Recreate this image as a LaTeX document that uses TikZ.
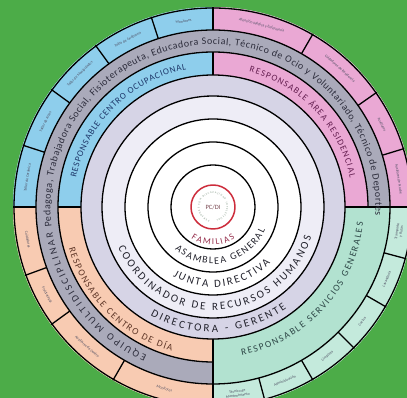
\documentclass[tikz,border=0pt]{standalone}
\usepackage{fontspec}
\setmainfont{Carlito}
\usetikzlibrary{decorations.text}
\definecolor{bg}{RGB}{76,172,72}
\definecolor{qblue}{RGB}{142,206,236}
\definecolor{qpink}{RGB}{234,168,212}
\definecolor{qsalmon}{RGB}{248,203,178}
\definecolor{qmint}{RGB}{178,226,208}
\definecolor{qmintl}{RGB}{196,234,220}
\definecolor{qgray}{RGB}{170,170,186}
\definecolor{lav}{RGB}{214,212,230}
\definecolor{lavl}{RGB}{238,237,246}
\definecolor{redc}{RGB}{205,45,60}
\definecolor{tdark}{RGB}{35,35,45}
\definecolor{tblue}{RGB}{30,55,105}
\definecolor{tpink}{RGB}{100,30,80}
\definecolor{tsalm}{RGB}{95,55,40}
\definecolor{tmint}{RGB}{45,70,70}
\definecolor{tgray}{RGB}{45,45,60}
\definecolor{tfam}{RGB}{150,45,75}
\definecolor{tpcdi}{RGB}{120,70,80}
\definecolor{tring}{RGB}{120,145,125}
\definecolor{boxtxt}{RGB}{80,80,100}
\tikzset{
  ringline/.style={draw=black, line width=1.3pt},
  arctext/.style={decorate, decoration={text along path, text align={fit to path}, text={#1}}},
  boxlbl/.style={font=\fontsize{3.8}{4.2}\selectfont, text=boxtxt, inner sep=0pt, align=center}
}
\begin{document}
\begin{tikzpicture}[x=1pt,y=1pt,line join=round]
\useasboundingbox (-213,-191) rectangle (194,207);
\fill[bg] (-213,-191) rectangle (194,207);
\begin{scope}
\clip (-213,-191) rectangle (194,207);
% base disk
\fill[white] (0,0) circle[radius=200pt];
\fill[lavl, even odd rule] (0,0) circle[radius=111pt] (0,0) circle[radius=88pt];
\fill[lav, even odd rule] (0,0) circle[radius=132pt] (0,0) circle[radius=111pt];
% gray ring (0 -> 270)
\fill[qgray] (0:155pt) arc[start angle=0,end angle=270,radius=155pt] -- (270:177pt) arc[start angle=270,end angle=0,radius=177pt] -- cycle;
% blue quadrant
\fill[qblue] (90:132pt) arc[start angle=90,end angle=180,radius=132pt] -- (180:155pt) arc[start angle=180,end angle=90,radius=155pt] -- cycle;
\fill[qblue] (90:177pt) arc[start angle=90,end angle=180,radius=177pt] -- (180:200pt) arc[start angle=180,end angle=90,radius=200pt] -- cycle;
% pink quadrant
\fill[qpink] (0:132pt) arc[start angle=0,end angle=90,radius=132pt] -- (90:155pt) arc[start angle=90,end angle=0,radius=155pt] -- cycle;
\fill[qpink] (0:177pt) arc[start angle=0,end angle=90,radius=177pt] -- (90:200pt) arc[start angle=90,end angle=0,radius=200pt] -- cycle;
% salmon quadrant
\fill[qsalmon] (180:132pt) arc[start angle=180,end angle=270,radius=132pt] -- (270:155pt) arc[start angle=270,end angle=180,radius=155pt] -- cycle;
\fill[qsalmon] (180:177pt) arc[start angle=180,end angle=270,radius=177pt] -- (270:200pt) arc[start angle=270,end angle=180,radius=200pt] -- cycle;
% mint quadrant
\fill[qmint] (270:132pt) arc[start angle=270,end angle=360,radius=132pt] -- (0:177pt) arc[start angle=360,end angle=270,radius=177pt] -- cycle;
\fill[qmintl] (270:177pt) arc[start angle=270,end angle=360,radius=177pt] -- (0:200pt) arc[start angle=360,end angle=270,radius=200pt] -- cycle;
% circles
\foreach \r in {42,65,88,111,132,177} {\draw[ringline] (0,0) circle[radius=\r pt];}
\draw[ringline] (0,0) circle[radius=199pt];
\draw[ringline] (0:155pt) arc[start angle=0,end angle=270,radius=155pt];
% quadrant dividers
\draw[ringline] (90:132pt) -- (90:155pt) (90:177pt) -- (90:200pt);
\draw[ringline] (180:132pt) -- (180:155pt) (180:177pt) -- (180:200pt);
\draw[ringline] (0:132pt) -- (0:200pt);
\draw[ringline] (270:132pt) -- (270:200pt);
% box dividers
\foreach \a in {108,126,144,162, 60,35,17, 200,216,240, 285,300,315,330,345} {\draw[ringline] (\a:177pt) -- (\a:200pt);}
% red circle
\draw[redc, line width=1.5pt] (0,0) circle[radius=22pt];
\node[font=\fontsize{6.5}{7}\selectfont, text=tpcdi, inner sep=0pt] (pcdi) at (0,0) {PC/DI};
\path[arctext={|\color{tring}\fontsize{2.6}{3}\selectfont|PERSONAS CON DISCAPACIDAD INTELECTUAL}] (255:13.5pt) arc[start angle=255,end angle=-75,radius=13.5pt];
% inner bottom labels
\path[arctext={|\color{tfam}\fontsize{9}{10}\selectfont|FAMILIAS}] (235:38pt) arc[start angle=235,end angle=305,radius=38pt];
\path[arctext={|\color{tdark}\fontsize{10}{11}\selectfont|ASAMBLEA GENERAL}] (228:57pt) arc[start angle=228,end angle=336,radius=57pt];
\path[arctext={|\color{tdark}\fontsize{11}{12}\selectfont|JUNTA DIRECTIVA}] (240:80pt) arc[start angle=240,end angle=316,radius=80pt];
\path[arctext={|\color{tdark}\fontsize{11}{12}\selectfont|COORDINADOR DE RECURSOS HUMANOS}] (203:103pt) arc[start angle=203,end angle=343,radius=103pt];
\path[arctext={|\color{tdark}\fontsize{11}{12}\selectfont|DIRECTORA - GERENTE}] (240:125pt) arc[start angle=240,end angle=306,radius=125pt];
% colored ring labels
\path[arctext={|\color{tblue}\fontsize{9}{10}\selectfont|RESPONSABLE CENTRO OCUPACIONAL}] (168:140pt) arc[start angle=168,end angle=101,radius=140pt];
\path[arctext={|\color{tpink}\fontsize{9}{10}\selectfont|RESPONSABLE ÁREA RESIDENCIAL}] (75:140pt) arc[start angle=75,end angle=12,radius=140pt];
\path[arctext={|\color{tsalm}\fontsize{9.5}{10}\selectfont|RESPONSABLE CENTRO DE DÍA}] (196:150pt) arc[start angle=196,end angle=254,radius=150pt];
\path[arctext={|\color{tmint}\fontsize{9.5}{10}\selectfont|RESPONSABLE SERVICIOS GENERALES}] (281:151pt) arc[start angle=281,end angle=354,radius=151pt];
% gray ring labels
\path[arctext={|\color{tgray}\fontsize{10}{11}\selectfont|Pedagoga, Trabajadora Social, Fisioterapeuta, Educadora Social, Técnico de Ocio y Voluntariado, Técnico de Deportes}] (187:162.5pt) arc[start angle=187,end angle=-3,radius=162.5pt];
\path[arctext={|\color{tgray}\fontsize{10}{11}\selectfont|EQUIPO MULTIDISCIPLINAR}] (246:162.5pt) arc[start angle=246,end angle=189,radius=162.5pt];
% outer box labels
\node[boxlbl, rotate=9] (b1) at (99:188pt) {Monitores};
\node[boxlbl, rotate=27] (b2) at (117:188pt) {Taller de Jardinería};
\node[boxlbl, rotate=45] (b3) at (135:188pt) {Taller de Manipulados};
\node[boxlbl, rotate=63] (b4) at (153:188pt) {Taller de Artes};
\node[boxlbl, rotate=81] (b5) at (171:188pt) {Taller de Cerámica};
\node[boxlbl, rotate=-15] (p1) at (75:188pt) {Atención Médica y Enfermería};
\node[boxlbl, rotate=-42.5] (p2) at (47.5:188pt) {Cuidadores de Residencia};
\node[boxlbl, rotate=-64] (p3) at (26:188pt) {Auxiliares};
\node[boxlbl, rotate=-81.5] (p4) at (8.5:188pt) {Auxiliares de Noche};
\node[boxlbl, rotate=280] (s1) at (190:188pt) {Cuidadores};
\node[boxlbl, rotate=298] (s2) at (208:188pt) {Fisioterapia};
\node[boxlbl, rotate=318] (s3) at (228:188pt) {Auxiliares de Centro};
\node[boxlbl, rotate=345] (s4) at (255:188pt) {Monitores};
\node[boxlbl, rotate=7.5] (m1) at (277.5:188pt) {Técnico de\\Mantenimiento};
\node[boxlbl, rotate=22.5] (m2) at (292.5:188pt) {Administración};
\node[boxlbl, rotate=37.5] (m3) at (307.5:188pt) {Limpieza};
\node[boxlbl, rotate=52.5] (m4) at (322.5:188pt) {Cocina};
\node[boxlbl, rotate=67.5] (m5) at (337.5:188pt) {Lavandería};
\node[boxlbl, rotate=82.5] (m6) at (352.5:188pt) {Transporte\\y Rutas};
\end{scope}
\end{tikzpicture}
\end{document}
